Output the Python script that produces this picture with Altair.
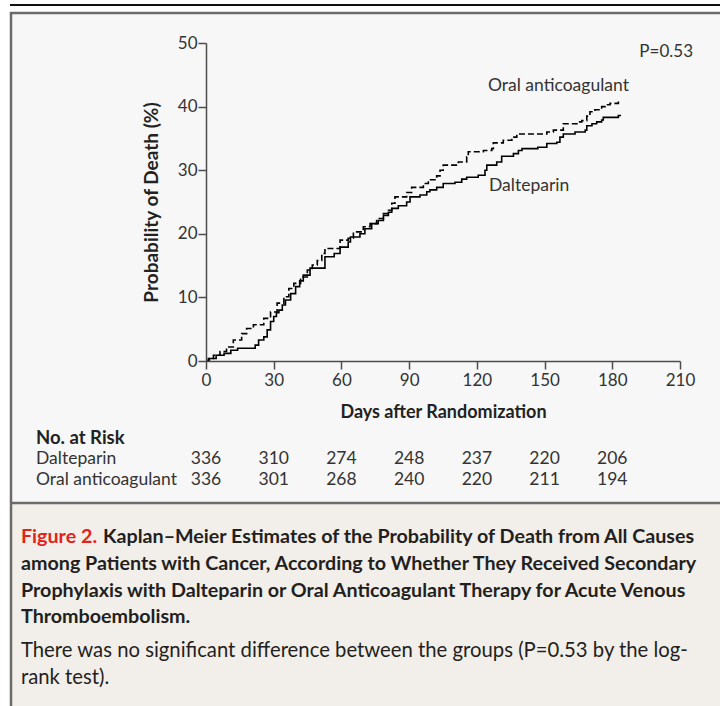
import altair as alt
import pandas as pd

# ---------------- data ----------------
dalteparin_days = [0, 1.5, 4.5, 8, 11, 14, 21.8, 23.3, 25.6, 27.1, 28.6, 30, 31.2, 32.3, 33.8,
                   35.2, 37.5, 39.7, 41.5, 43.1, 46.1, 52.7, 56.8, 59.4, 63, 64, 68.2, 70.4,
                   73.4, 76.3, 78.6, 80.8, 82.3, 85.2, 88.9, 90.4, 94.8, 97.8, 99.2, 102.2,
                   105.1, 110.3, 113.3, 115.5, 120.6, 123.6, 124.4, 128.8, 131, 136.2, 138.4,
                   140, 147, 151, 155.4, 156.8, 158.3, 163.5, 168, 168.7, 171, 173.1, 175.3,
                   176, 182.7, 183.5]
dalteparin_pct = [0, 0.4, 0.9, 1.2, 1.7, 2.0, 2.5, 3.3, 3.8, 4.9, 6.2, 7.0, 7.6, 8.0, 8.8,
                  9.6, 10.6, 11.7, 12.6, 13.5, 14.6, 16.4, 16.9, 17.9, 18.7, 19.5, 20.0, 20.8,
                  21.6, 22.1, 22.9, 23.4, 24.0, 24.4, 25.0, 25.8, 26.1, 26.6, 26.9, 27.3,
                  27.9, 28.1, 28.6, 28.9, 29.2, 30.0, 30.8, 31.3, 32.2, 32.6, 33.1,
                  33.4, 33.6, 34.2, 34.4, 35.2, 35.7, 36.0, 36.3, 37.0, 37.3, 37.6, 37.9,
                  38.3, 38.6, 38.7]

oral_days = [0, 1, 3.3, 6.2, 9.1, 12.1, 15.8, 18, 21, 25.6, 28.6, 31.5, 34.5, 36.7, 38.9,
             41.9, 44.9, 47.1, 49.3, 51.3, 52.7, 59.4, 63, 65.3, 69.7, 72.7, 75.6, 78.6,
             80.8, 82.3, 83.7, 88.9, 91.1, 96.3, 98.5, 102.2, 103.7, 105.1, 111.8, 115.5,
             116.2, 122.9, 126.6, 127.3, 131.7, 135.5, 137.7, 151, 153.9, 158.3, 165,
             166.5, 168.7, 170.1, 172.3, 175.3, 176.8, 179, 182.7, 183.5]
oral_pct = [0, 0.4, 0.9, 1.5, 2.2, 3.3, 4.3, 5.1, 5.7, 6.7, 7.7, 9.1, 10.1, 11.4, 12.2,
            13.2, 14.3, 15.1, 15.8, 16.9, 17.7, 19.0, 19.3, 20.3, 21.1, 21.6, 22.4, 23.2,
            23.7, 24.8, 25.8, 26.5, 27.3, 27.9, 28.5, 29.1, 30.0, 30.8, 31.3, 32.1,
            32.9, 33.1, 33.4, 34.3, 34.7, 35.2, 35.7, 36.0, 36.3, 37.3, 37.6,
            37.8, 38.5, 39.2, 39.5, 40.0, 40.3, 40.5, 40.9, 41.0]

groups = ["Dalteparin", "Oral anticoagulant"]
risk_days = [0, 30, 60, 90, 120, 150, 180]
risk_dalteparin = [336, 310, 274, 248, 237, 220, 206]
risk_oral = [336, 301, 268, 240, 220, 211, 194]
x_ticks = [0, 30, 60, 90, 120, 150, 180, 210]
y_ticks = [0, 10, 20, 30, 40, 50]

caption_title_red = "Figure 2."
caption_title_lines = [
    "Kaplan–Meier Estimates of the Probability of Death from All Causes",
    "among Patients with Cancer, According to Whether They Received Secondary",
    "Prophylaxis with Dalteparin or Oral Anticoagulant Therapy for Acute Venous",
    "Thromboembolism.",
]
caption_body_lines = [
    "There was no significant difference between the groups (P=0.53 by the log-",
    "rank test).",
]

# ---------------- layout ----------------
FONT = "Lato"
W, H = 474, 318          # plot area
PL, PT = 206, 43         # plot origin in page pixels
TOTAL_W, TOTAL_H = 720, 706
TXT = "#333333"

curves = pd.concat([
    pd.DataFrame({"group": groups[0], "day": dalteparin_days, "pct": dalteparin_pct}),
    pd.DataFrame({"group": groups[1], "day": oral_days, "pct": oral_pct}),
])

x_scale = alt.Scale(domain=[0, 210], nice=False, zero=False)
y_scale = alt.Scale(domain=[0, 50], nice=False, zero=False)

one = alt.Data(values=[{}])


def px(v):
    return alt.value(v - PL)


def py(v):
    return alt.value(v - PT)


def rect(x1, x2, y1, y2, fill):
    return alt.Chart(one).mark_rect(fill=fill).encode(
        x=px(x1), x2=px(x2), y=py(y1), y2=py(y2))


def rule(x1, x2, y1, y2, color, width):
    return alt.Chart(one).mark_rule(color=color, strokeWidth=width).encode(
        x=px(x1), x2=px(x2), y=py(y1), y2=py(y2))


def label(text, x, y, size=17.5, weight="normal", color=TXT, align="left"):
    return alt.Chart(one).mark_text(
        text=text, align=align, baseline="middle", font=FONT, fontSize=size,
        fontWeight=weight, color=color).encode(x=px(x), y=py(y))


BORDER = "#6b6b6b"
decor = [
    rect(12, 760, 14, 503, "#f7f7f7"),
    rect(12, 760, 503, 760, "#f2eee9"),
    rule(10, 760, 5, 5, "#111111", 2),
    rule(10, 760, 13, 13, BORDER, 2.5),
    rule(11, 11, 12, 760, BORDER, 2.5),
    rule(10, 760, 503, 503, BORDER, 2.5),
]

AX = "#4d4d4d"
lines = alt.Chart(curves).mark_line(
    interpolate="step-after", color="black", strokeWidth=1.6
).encode(
    x=alt.X("day:Q", scale=x_scale, axis=alt.Axis(
        values=x_ticks, title="Days after Randomization", grid=False, zindex=1,
        domainColor=AX, domainWidth=1.5, tickColor=AX, tickWidth=1.5,
        tickSize=8, labelFont=FONT, labelFontSize=17, labelColor=TXT, labelPadding=3,
        labelFlush=False, titleFont=FONT, titleFontSize=18, titleFontWeight="bold",
        titleColor="#222222", titlePadding=15)),
    y=alt.Y("pct:Q", scale=y_scale, axis=alt.Axis(
        values=y_ticks, title="Probability of Death (%)", grid=False, zindex=1,
        domainColor=AX, domainWidth=1.5, tickColor=AX, tickWidth=1.5,
        tickSize=8, labelFont=FONT, labelFontSize=17, labelColor=TXT, labelPadding=1,
        labelFlush=False, titleFont=FONT, titleFontSize=19, titleFontWeight="bold",
        titleColor="#222222", titlePadding=16)),
    strokeDash=alt.StrokeDash("group:N", scale=alt.Scale(
        domain=groups, range=[[1, 0], [6, 3]]), legend=None),
    detail="group:N",
)

risk_df_d = pd.DataFrame({"day": risk_days, "n": risk_dalteparin})
risk_df_o = pd.DataFrame({"day": risk_days, "n": risk_oral})


def risk_row(df, y):
    return alt.Chart(df).mark_text(
        align="center", baseline="middle", font=FONT, fontSize=17.5, color=TXT
    ).encode(x=alt.X("day:Q", scale=x_scale), y=py(y), text="n:Q")


annotations = [
    label("P=0.53", 693, 52, size=17, align="right"),
    label("Oral anticoagulant", 488, 86),
    label("Dalteparin", 489, 186),
    label("No. at Risk", 36, 438, size=18.5, weight="bold", color="#222222"),
    label("Dalteparin", 36, 459),
    label("Oral anticoagulant", 36, 480),
    risk_row(risk_df_d, 459),
    risk_row(risk_df_o, 480),
]

cap_y = [537, 564, 591, 617]
CAP = 19.7
caption = [label(caption_title_red, 21, cap_y[0], size=CAP, weight="bold", color="#e2231a")]
caption.append(label(caption_title_lines[0], 103, cap_y[0], size=CAP, weight="bold", color="#231f20"))
for t, y in zip(caption_title_lines[1:], cap_y[1:]):
    caption.append(label(t, 21, y, size=CAP, weight="bold", color="#231f20"))
for t, y in zip(caption_body_lines, [651, 678]):
    caption.append(label(t, 21, y, size=20.3, color="#231f20"))

chart = alt.layer(*decor, lines, *annotations, *caption).properties(
    width=W, height=H,
    autosize=alt.AutoSizeParams(type="none"),
    padding={"left": PL, "top": PT, "right": TOTAL_W - PL - W, "bottom": TOTAL_H - PT - H},
    background="white",
).configure_view(stroke=None)

chart.save("out.html", embed_options={"renderer": "svg", "actions": False})
